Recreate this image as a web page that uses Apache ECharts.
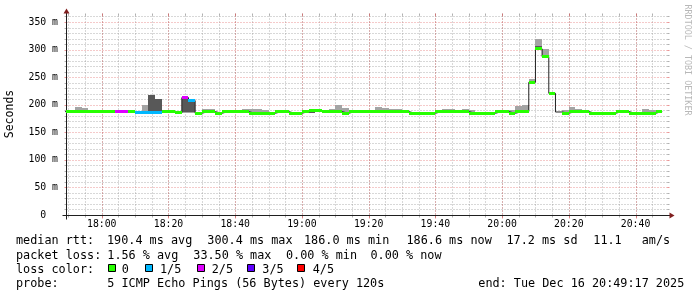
<!DOCTYPE html>
<html><head><meta charset="utf-8">
<script src="https://cdn.jsdelivr.net/npm/echarts@6/dist/echarts.min.js"></script>
<style>html,body{margin:0;padding:0;background:#fff}#c{width:697px;height:297px}</style>
</head><body><div id="c"></div>
<script>
const _ = null;
// time in minutes of the day
const firstStepMin = 1068;           // 17:48, start of first 2-minute step
const stepMin = 2;
const xRange = [1069.283, 1249.283]; // 17:49:17 .. 20:49:17
const xMajorTicks = [1080, 1100, 1120, 1140, 1160, 1180, 1200, 1220, 1240];
const xTickLabels = ['18:00', '18:20', '18:40', '19:00', '19:20', '19:40', '20:00', '20:20', '20:40'];
const xMinorTicks = [1070,1075,1080,1085,1090,1095,1100,1105,1110,1115,1120,1125,1130,1135,1140,1145,1150,1155,1160,1165,1170,1175,1180,1185,1190,1195,1200,1205,1210,1215,1220,1225,1230,1235,1240,1245];
const yRange = [0, 362.7];
const yMajorTicks = [0, 50, 100, 150, 200, 250, 300, 350];
const yTickLabels = ['0  ', '50 m', '100 m', '150 m', '200 m', '250 m', '300 m', '350 m'];
const yMinorTicks = [10,20,30,40,60,70,80,90,110,120,130,140,160,170,180,190,210,220,230,240,260,270,280,290,310,320,330,340,360];

// median rtt per step (ms)
const medianMs = [
 187.5,187.5,187.5,187.5,187.5,187.5,187.5,187.5,187.5,187.5,
 187.5,186.6,186.6,186.6,186.6,188,188,185,212.9,207.5,
 184.5,187.5,187.5,184.5,187.5,187.5,187.5,187.5,184.5,184.5,
 184.5,184.5,187.5,187.5,184.5,184.5,187.5,189.5,189.5,187.5,
 187.5,187.5,184.5,187.5,187.5,187.5,187.5,187.5,187.5,187.5,
 187.5,187.5,184.5,184.5,184.5,184.5,187.5,187.5,187.5,187.5,
 187.5,184.5,184.5,184.5,184.5,187.5,187.5,184.5,187.5,187.5,
 240.6,301.4,287.2,220.7,186.8,184.5,187.5,187.5,187.5,184.5,
 184.5,184.5,184.5,187.5,187.5,184.5,184.5,184.5,184.5,187.5];
// outer smoke (min..max ping), ms; null = not visible
const smokeLoMs = [
 _,_,187.5,187.5,_,_,_,_,_,_,
 _,_,186.6,186.6,186.6,_,_,_,185.5,185.5,
 _,187.5,187.5,_,_,_,_,187.5,184.5,184.5,
 184.5,_,_,_,_,_,_,185.5,_,187.5,
 187.5,187.5,184.5,_,_,_,_,187.5,187.5,187.5,
 187.5,_,_,_,_,_,_,187.5,187.5,_,
 187.5,184.5,_,_,_,_,_,184.5,187.5,187.5,
 240.6,299.5,287.2,_,_,184.5,187.5,187.5,_,_,
 _,_,_,_,_,_,_,184.5,184.5,_];
const smokeHiMs = [
 _,_,196.4,194,_,_,_,_,_,_,
 _,_,199.5,217.6,210,_,_,_,213,209.5,
 _,191.5,191.5,_,_,_,_,192.2,192.2,192.2,
 190.4,_,_,_,_,_,_,190.5,_,191,
 192.2,199.5,194,_,_,_,_,196,194,192.2,
 192.2,_,_,_,_,_,_,191.5,191.5,_,
 191.5,190.4,_,_,_,_,_,190.4,197.7,200,
 247,319,301,_,_,190.4,196,192.2,_,_,
 _,_,_,_,_,_,_,192.2,190.4,_];
// inner smoke (2nd..4th ping), ms
const darkLoMs = [
 _,_,_,_,_,_,_,_,_,_,
 _,_,_,186.6,186.6,_,_,_,187,187,
 _,_,_,_,_,_,_,_,_,_,
 _,_,_,_,_,_,_,185.5,_,_,
 _,_,_,_,_,_,_,_,_,187.5,
 _,_,_,_,_,_,_,_,_,_,
 _,_,_,_,_,_,_,_,_,_,
 _,300,_,_,_,_,_,_,_,_,
 _,_,_,_,_,_,_,_,_,_];
const darkHiMs = [
 _,_,_,_,_,_,_,_,_,_,
 _,_,_,217.6,210,_,_,_,212.9,207.5,
 _,_,_,_,_,_,_,_,_,_,
 _,_,_,_,_,_,_,188,_,_,
 _,_,_,_,_,_,_,_,_,190.5,
 _,_,_,_,_,_,_,_,_,_,
 _,_,_,_,_,_,_,_,_,_,
 _,307,_,_,_,_,_,_,_,_,
 _,_,_,_,_,_,_,_,_,_];
// lost pings out of 5 per step
const lossFifths = [
 0,0,0,0,0,0,0,0,2,2,
 0,1,1,1,1,0,0,0,2,1,
 0,0,0,0,0,0,0,0,0,0,
 0,0,0,0,0,0,0,0,0,0,
 0,0,0,0,0,0,0,0,0,0,
 0,0,0,0,0,0,0,0,0,0,
 0,0,0,0,0,0,0,0,0,0,
 0,0,0,0,_,0,0,0,0,0,
 0,0,0,0,0,0,0,0,0,0];
const lossColors = ['#26ff00', '#00b8ff', '#dd00ff', '#5e00ff', '#ff0000'];
const lossLabels = ['0', '1/5', '2/5', '3/5', '4/5'];

const statLine1 = [[16,'median rtt:'],[107,'190.4 ms avg'],[207.3,'300.4 ms max'],[304,'186.0 ms min'],[406.5,'186.6 ms now'],[506.5,'17.2 ms sd'],[593.3,'11.1'],[641.7,'am/s']];
const statLine2 = [[16,'packet loss:'],[107.3,'1.56 % avg'],[193.3,'33.50 % max'],[286,'0.00 % min'],[370.5,'0.00 % now']];
const probeText = '5 ICMP Echo Pings (56 Bytes) every 120s';
const endText = 'end: Tue Dec 16 20:49:17 2025';

const MONO = "'DejaVu Sans Mono', monospace";
const tStart = k => firstStepMin + k * stepMin;

const lightData = [], darkData = [], barData = [], lineData = [];
medianMs.forEach((m, k) => {
  if (smokeHiMs[k] != null) lightData.push([tStart(k), tStart(k) + stepMin, smokeLoMs[k], smokeHiMs[k]]);
  if (darkHiMs[k] != null) darkData.push([tStart(k), tStart(k) + stepMin, darkLoMs[k], darkHiMs[k]]);
  if (lossFifths[k] != null) barData.push([tStart(k), tStart(k) + stepMin, m, lossFifths[k]]);
  lineData.push([tStart(k), m]);
});
lineData.push([tStart(medianMs.length), medianMs[medianMs.length - 1]]);

function bandRenderer(color) {
  return function (params, api) {
    const a = api.coord([api.value(0), api.value(3)]);
    const b = api.coord([api.value(1), api.value(2)]);
    const x0 = Math.round(a[0]), x1 = Math.round(b[0]);
    const y0 = Math.round(a[1]), y1 = Math.round(b[1]);
    return { type: 'rect', shape: { x: x0, y: y0, width: x1 - x0, height: Math.max(y1 - y0, 0) }, style: { fill: color } };
  };
}
function barRenderer(params, api) {
  const a = api.coord([api.value(0), api.value(2)]);
  const b = api.coord([api.value(1), api.value(2)]);
  const x0 = Math.round(a[0]), x1 = Math.round(b[0]);
  return { type: 'rect', shape: { x: x0, y: Math.round(a[1] - 1.5), width: x1 - x0, height: 3 }, style: { fill: lossColors[api.value(3)] } };
}
const GRID = 'rgba(143,143,143,0.7)', MGRID = 'rgba(222,79,79,0.6)', AXIS = '#1f1f1f', ARROW = '#801f1f';
const DASH = [1, 2];
function ln(x1, y1, x2, y2, color, dash) {
  const style = { stroke: color, lineWidth: 1 };
  if (dash) { style.lineDash = dash; style.lineDashOffset = 0; }
  return { type: 'line', shape: { x1, y1, x2, y2 }, style };
}
function frameRenderer(params, api) {
  const cs = params.coordSys;
  const L = Math.round(cs.x) + 0.5, R = Math.round(cs.x + cs.width) + 0.5;
  const T = Math.round(cs.y) + 0.5, B = Math.round(cs.y + cs.height) + 0.5;
  const px = v => Math.round(api.coord([v, yRange[0]])[0]) + 0.5;
  const py = v => Math.round(api.coord([xRange[0], v])[1]) + 0.5;
  const ch = [];
  xMinorTicks.forEach(v => { const x = px(v); ch.push(ln(x, T, x, B, GRID, DASH), ln(x, T - 2, x, T, GRID), ln(x, B, x, B + 2, GRID)); });
  yMinorTicks.forEach(v => { const y = py(v); ch.push(ln(L, y, R, y, GRID, DASH), ln(L - 2, y, L, y, GRID), ln(R, y, R + 2, y, GRID)); });
  xMajorTicks.forEach(v => { const x = px(v); ch.push(ln(x, T, x, B, MGRID, DASH), ln(x, T - 2, x, T, MGRID), ln(x, B, x, B + 3, MGRID)); });
  yMajorTicks.forEach(v => { if (v === 0) return; const y = py(v); ch.push(ln(L, y, R, y, MGRID, DASH), ln(L - 2, y, L, y, MGRID), ln(R, y, R + 2, y, MGRID)); });
  ch.push(ln(L - 4, B, R + 4, B, AXIS), ln(L, B + 4, L, T - 4, AXIS));
  ch.push({ type: 'polygon', shape: { points: [[R + 2, B - 3], [R + 2, B + 3], [R + 7, B]] }, style: { fill: ARROW } });
  ch.push({ type: 'polygon', shape: { points: [[L - 3, T - 2], [L + 3, T - 2], [L, T - 7]] }, style: { fill: ARROW } });
  return { type: 'group', children: ch };
}

const graphics = [];
function addText(x, y, s, extra) {
  graphics.push(Object.assign({ type: 'text', x, y, style: { text: s, font: '11.8px ' + MONO, fill: '#000', textAlign: 'left', textVerticalAlign: 'middle', align: 'left', verticalAlign: 'middle' } }, extra || {}));
}
statLine1.forEach(([x, s]) => addText(x, 241, s));
statLine2.forEach(([x, s]) => addText(x, 255.5, s));
addText(16, 269.5, 'loss color:');
const boxX = [108.5, 145.5, 197.5, 247.5, 297.5];
const boxLabelX = [121.7, 160, 211.7, 262.3, 312.7];
lossLabels.forEach((lab, i) => {
  graphics.push({ type: 'rect', shape: { x: boxX[i], y: 264.5, width: 7, height: 7 }, style: { fill: lossColors[i], stroke: '#000', lineWidth: 1 } });
  addText(boxLabelX[i], 269.5, lab);
});
addText(16, 283.5, 'probe:');
addText(107.3, 283.5, probeText);
addText(478.3, 283.5, endText);
graphics.push({ type: 'text', x: 10.5, y: 114, rotation: Math.PI / 2, style: { text: 'Seconds', font: '11.5px ' + MONO, fill: '#000', textAlign: 'center', textVerticalAlign: 'middle', align: 'center', verticalAlign: 'middle' } });
graphics.push({ type: 'text', x: 687.5, y: 60, rotation: -Math.PI / 2, style: { text: 'RRDTOOL / TOBI OETIKER', font: '8.4px ' + MONO, fill: '#b8b8b8', textAlign: 'center', textVerticalAlign: 'middle', align: 'center', verticalAlign: 'middle' } });

const chart = echarts.init(document.getElementById('c'), null, { renderer: 'canvas' });
chart.setOption({
  animation: false,
  backgroundColor: '#ffffff',
  grid: { left: 66, right: 30.5, top: 15, bottom: 82, containLabel: false },
  xAxis: {
    type: 'value', min: xRange[0], max: xRange[1],
    axisLine: { show: false }, axisTick: { show: false }, splitLine: { show: false },
    axisLabel: { customValues: xMajorTicks, formatter: v => xTickLabels[xMajorTicks.indexOf(v)], fontFamily: MONO, fontSize: 9.8, color: '#000', margin: 4 }
  },
  yAxis: {
    type: 'value', min: yRange[0], max: yRange[1],
    axisLine: { show: false }, axisTick: { show: false }, splitLine: { show: false },
    axisLabel: { customValues: yMajorTicks, formatter: v => yTickLabels[yMajorTicks.indexOf(v)], fontFamily: MONO, fontSize: 9.8, color: '#000', margin: 8 }
  },
  graphic: graphics,
  series: [
    { type: 'custom', name: 'grid', renderItem: frameRenderer, data: [[xRange[0], yRange[0]]], clip: false, silent: true, z: 1 },
    { type: 'custom', name: 'smoke', renderItem: bandRenderer('#a4a4a4'), data: lightData, clip: true, silent: true, z: 2 },
    { type: 'custom', name: 'smoke inner', renderItem: bandRenderer('#585858'), data: darkData, clip: true, silent: true, z: 3 },
    { type: 'line', name: 'median', data: lineData, step: 'end', showSymbol: false, symbol: 'none', lineStyle: { color: '#202020', width: 1 }, clip: true, silent: true, z: 4 },
    { type: 'custom', name: 'loss', renderItem: barRenderer, data: barData, clip: true, silent: true, z: 5 }
  ]
});
</script></body></html>
